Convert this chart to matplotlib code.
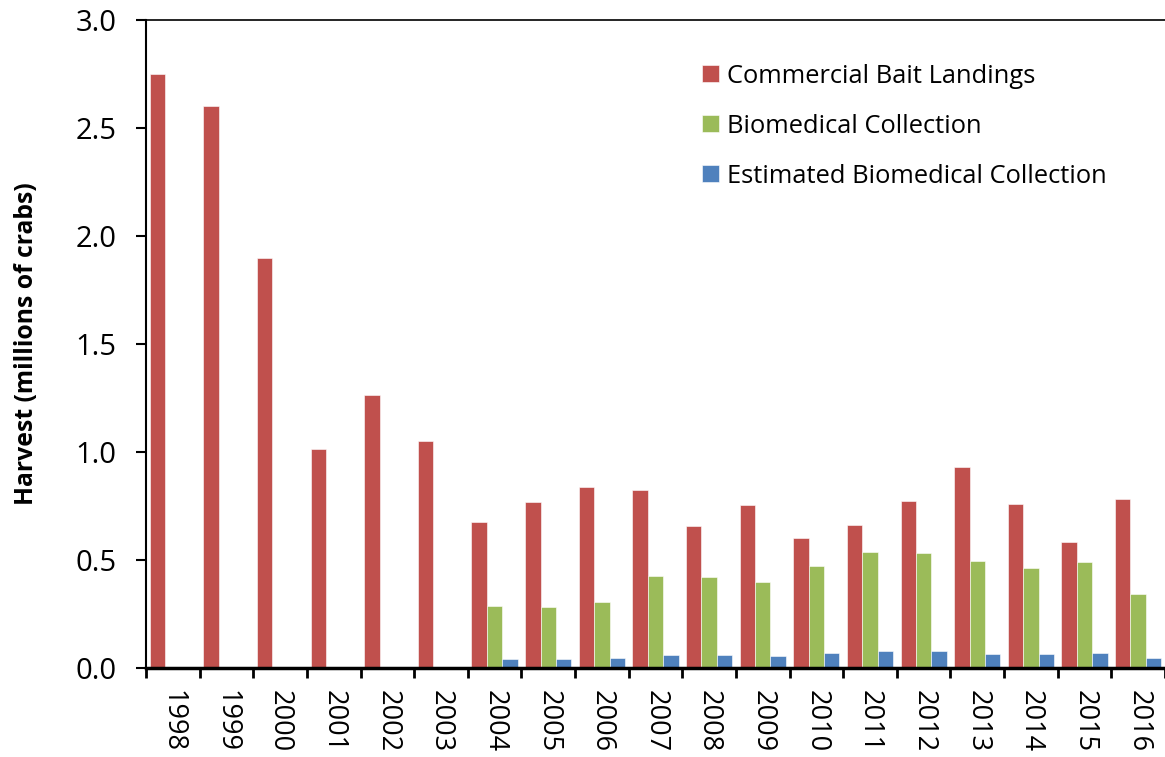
import numpy as np
import matplotlib.pyplot as plt

plt.rcParams['font.family'] = ['Open Sans', 'DejaVu Sans']

# Harvest by year, millions of crabs
years = ['1998', '1999', '2000', '2001', '2002', '2003', '2004', '2005', '2006', '2007',
         '2008', '2009', '2010', '2011', '2012', '2013', '2014', '2015', '2016']
bait = [2.75, 2.60, 1.90, 1.012, 1.265, 1.049, 0.677, 0.767, 0.838, 0.826,
        0.659, 0.755, 0.601, 0.661, 0.772, 0.929, 0.758, 0.583, 0.784]
biomed = [0, 0, 0, 0, 0, 0, 0.288, 0.281, 0.306, 0.426,
          0.420, 0.400, 0.474, 0.537, 0.533, 0.497, 0.462, 0.489, 0.341]
biomed_est = [0, 0, 0, 0, 0, 0, 0.042, 0.042, 0.046, 0.060,
              0.060, 0.056, 0.068, 0.079, 0.077, 0.066, 0.065, 0.071, 0.044]

series = [
    ('Commercial Bait Landings', bait, '#C0504D'),
    ('Biomedical Collection', biomed, '#9BBB59'),
    ('Estimated Biomedical Collection', biomed_est, '#4F81BD'),
]

fig = plt.figure(figsize=(11.65, 7.57), dpi=100)
ax = fig.add_axes([0.1253, 0.1176, 0.8747, 0.856])

x = np.arange(len(years))
w = 0.287
for i, (name, vals, col) in enumerate(series):
    ax.bar(x - w + i * w, vals, width=w, color=col, label=name,
           edgecolor='white', linewidth=0.4)

ax.set_xlim(-0.5, len(years) - 0.5)
ax.set_ylim(0, 3.0)
ax.set_yticks(np.arange(0, 3.01, 0.5))
ax.set_yticklabels([f'{v:.1f}' for v in np.arange(0, 3.01, 0.5)], fontsize=21)

# category boundaries as ticks, year labels centred between them
ax.set_xticks(np.arange(len(years) + 1) - 0.5)
ax.set_xticklabels([])
ax.set_xticks(x, minor=True)
ax.set_xticklabels(years, minor=True, rotation=-90, fontsize=19.5)
ax.tick_params(axis='x', which='minor', length=0, pad=16)
ax.tick_params(axis='x', which='major', length=7, width=2, direction='out')
ax.tick_params(axis='y', length=7.2, width=1.5, direction='out', pad=14)

ax.spines['right'].set_visible(False)
ax.spines['left'].set_linewidth(1.5)
ax.spines['bottom'].set_linewidth(2.5)
ax.spines['top'].set_linewidth(1.2)

ax.set_ylabel('Harvest (millions of crabs)', fontsize=17.8, fontweight='bold', labelpad=26)

ax.legend(loc='upper left', bbox_to_anchor=(0.523, 0.968), frameon=False, fontsize=18.4,
          handlelength=0.65, handleheight=0.65, handletextpad=0.35, labelspacing=0.98)

fig.savefig('out.png', dpi=100)
